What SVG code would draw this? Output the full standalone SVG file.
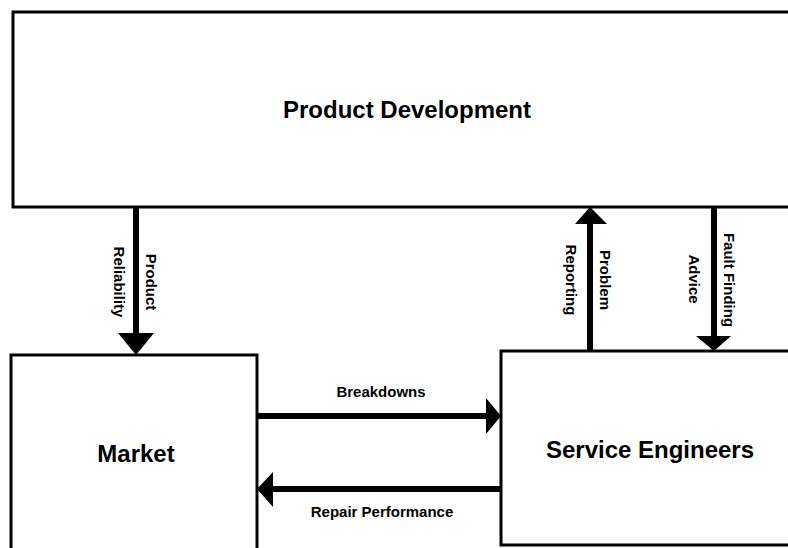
<svg xmlns="http://www.w3.org/2000/svg" width="788" height="548" viewBox="0 0 788 548">
<style>
.box{fill:#fff;stroke:#000;stroke-width:3}
.big{font-family:"Liberation Sans",Arial,sans-serif;font-weight:bold;font-size:24px;fill:#000;text-anchor:middle}
.lbl{font-family:"Liberation Sans",Arial,sans-serif;font-weight:bold;font-size:15px;fill:#000;text-anchor:middle}
.ln{stroke:#000;stroke-width:6;fill:none}
.hd{fill:#000}
</style>
<rect width="788" height="548" fill="#fff"/>
<g id="product-development">
<rect class="box" x="13" y="12" width="790" height="195"/>
<text class="big" x="407" y="118">Product Development</text>
</g>
<g id="market">
<rect class="box" x="11" y="355" width="246" height="210"/>
<text class="big" x="136" y="462">Market</text>
</g>
<g id="service-engineers">
<rect class="box" x="501" y="351" width="300" height="194"/>
<text class="big" x="650" y="458">Service Engineers</text>
</g>
<g id="connectors">
<line class="ln" x1="136" y1="207" x2="136" y2="336"/>
<polygon class="hd" points="118,333 154,333 136,355"/>
<line class="ln" x1="590" y1="351" x2="590" y2="222"/>
<polygon class="hd" points="575,224 607,224 590,207"/>
<line class="ln" x1="714" y1="207" x2="714" y2="338"/>
<polygon class="hd" points="696,336 731,336 714,351"/>
<line class="ln" x1="257" y1="416" x2="489" y2="416"/>
<polygon class="hd" points="486,398 486,434 501,416"/>
<line class="ln" x1="501" y1="489" x2="270" y2="489"/>
<polygon class="hd" points="273,472 273,507 257,489"/>
<text class="lbl" transform="translate(146,282) rotate(90)">Product</text>
<text class="lbl" transform="translate(114,282) rotate(90)">Reliability</text>
<text class="lbl" transform="translate(600,280) rotate(90)">Problem</text>
<text class="lbl" transform="translate(566,280) rotate(90)">Reporting</text>
<text class="lbl" transform="translate(724,280) rotate(90)">Fault Finding</text>
<text class="lbl" transform="translate(689,279) rotate(90)">Advice</text>
<text class="lbl" x="381" y="397">Breakdowns</text>
<text class="lbl" x="382" y="517">Repair Performance</text>
</g>
</svg>
